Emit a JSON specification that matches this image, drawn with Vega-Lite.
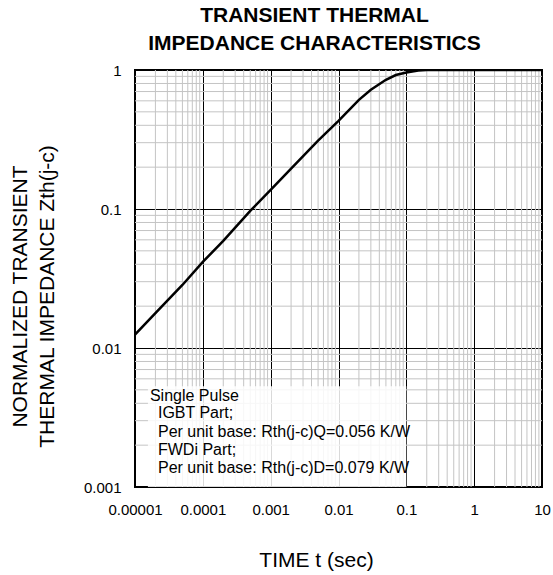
{
  "$schema": "https://vega.github.io/schema/vega-lite/v6.json",
  "width": 407,
  "height": 417,
  "autosize": {"type": "none"},
  "padding": {"left": 135, "top": 70, "right": 11, "bottom": 88},
  "background": "white",
  "config": {
    "font": "Liberation Sans",
    "view": {"stroke": "black", "strokeWidth": 2}
  },
  "title": {
    "text": ["TRANSIENT THERMAL", "IMPEDANCE CHARACTERISTICS"],
    "font": "Liberation Sans",
    "fontSize": 21,
    "fontWeight": "bold",
    "lineHeight": 28,
    "anchor": "middle",
    "offset": 9,
    "dx": -24,
    "color": "black"
  },
  "datasets": {
    "curve": [
      {"t": 0.00001, "z": 0.0125},
      {"t": 0.00002, "z": 0.0178},
      {"t": 0.00005, "z": 0.0284},
      {"t": 0.0001, "z": 0.0416},
      {"t": 0.0002, "z": 0.059},
      {"t": 0.0005, "z": 0.097},
      {"t": 0.001, "z": 0.137},
      {"t": 0.002, "z": 0.195},
      {"t": 0.005, "z": 0.31},
      {"t": 0.01, "z": 0.43},
      {"t": 0.02, "z": 0.61},
      {"t": 0.03, "z": 0.72},
      {"t": 0.05, "z": 0.85},
      {"t": 0.07, "z": 0.92},
      {"t": 0.1, "z": 0.96},
      {"t": 0.15, "z": 0.99},
      {"t": 0.2, "z": 1.0},
      {"t": 10, "z": 1.0}
    ],
    "gridx": [
      {"gx": 0.00002}, {"gx": 0.00003}, {"gx": 0.00004}, {"gx": 0.00005}, {"gx": 0.00006}, {"gx": 0.00007}, {"gx": 0.00008}, {"gx": 0.00009},
      {"gx": 0.0002}, {"gx": 0.0003}, {"gx": 0.0004}, {"gx": 0.0005}, {"gx": 0.0006}, {"gx": 0.0007}, {"gx": 0.0008}, {"gx": 0.0009},
      {"gx": 0.002}, {"gx": 0.003}, {"gx": 0.004}, {"gx": 0.005}, {"gx": 0.006}, {"gx": 0.007}, {"gx": 0.008}, {"gx": 0.009},
      {"gx": 0.02}, {"gx": 0.03}, {"gx": 0.04}, {"gx": 0.05}, {"gx": 0.06}, {"gx": 0.07}, {"gx": 0.08}, {"gx": 0.09},
      {"gx": 0.2}, {"gx": 0.3}, {"gx": 0.4}, {"gx": 0.5}, {"gx": 0.6}, {"gx": 0.7}, {"gx": 0.8}, {"gx": 0.9},
      {"gx": 2}, {"gx": 3}, {"gx": 4}, {"gx": 5}, {"gx": 6}, {"gx": 7}, {"gx": 8}, {"gx": 9}
    ],
    "gridy": [
      {"gy": 0.002}, {"gy": 0.003}, {"gy": 0.004}, {"gy": 0.005}, {"gy": 0.006}, {"gy": 0.007}, {"gy": 0.008}, {"gy": 0.009},
      {"gy": 0.02}, {"gy": 0.03}, {"gy": 0.04}, {"gy": 0.05}, {"gy": 0.06}, {"gy": 0.07}, {"gy": 0.08}, {"gy": 0.09},
      {"gy": 0.2}, {"gy": 0.3}, {"gy": 0.4}, {"gy": 0.5}, {"gy": 0.6}, {"gy": 0.7}, {"gy": 0.8}, {"gy": 0.9}
    ],
    "box": [
      {"x1": 0.0000155, "x2": 0.1, "y1": 0.001, "y2": 0.0053}
    ],
    "note1": [
      {"tx": 0.0000166, "ty": 0.00452, "label": "Single Pulse"}
    ],
    "note2": [
      {"tx": 0.0000218, "ty": 0.0034, "label": "IGBT Part;"},
      {"tx": 0.0000218, "ty": 0.00249, "label": "Per unit base: Rth(j-c)Q=0.056 K/W"},
      {"tx": 0.0000218, "ty": 0.00185, "label": "FWDi Part;"},
      {"tx": 0.0000218, "ty": 0.00137, "label": "Per unit base: Rth(j-c)D=0.079 K/W"}
    ]
  },
  "layer": [
    {
      "data": {"name": "gridx"},
      "mark": {"type": "rule", "stroke": "#c4c4c4", "strokeWidth": 1},
      "encoding": {
        "x": {
          "field": "gx", "type": "quantitative",
          "scale": {"type": "log", "domain": [0.00001, 10], "nice": false},
          "axis": {
            "values": [0.00001, 0.0001, 0.001, 0.01, 0.1, 1, 10],
            "format": "~f",
            "title": "TIME t (sec)",
            "titleFontSize": 21,
            "titleFontWeight": "normal",
            "titleColor": "black",
            "titleX": 181,
            "titleY": 79,
            "titleBaseline": "alphabetic",
            "titleAlign": "center",
            "labelFontSize": 15,
            "labelColor": "black",
            "labelPadding": 15,
            "labelFlush": false,
            "labelOverlap": false,
            "ticks": false,
            "domain": false,
            "grid": true,
            "gridColor": "black",
            "gridWidth": 1,
            "gridOpacity": 1
          }
        }
      }
    },
    {
      "data": {"name": "gridy"},
      "mark": {"type": "rule", "stroke": "#c4c4c4", "strokeWidth": 1},
      "encoding": {
        "y": {
          "field": "gy", "type": "quantitative",
          "scale": {"type": "log", "domain": [0.001, 1], "nice": false},
          "axis": {
            "values": [0.001, 0.01, 0.1, 1],
            "format": "~f",
            "title": ["NORMALIZED TRANSIENT", "THERMAL IMPEDANCE Zth(j-c)"],
            "titleFontSize": 21,
            "titleFontWeight": "normal",
            "titleColor": "black",
            "titleLineHeight": 27,
            "titleX": -115,
            "titleY": 226,
            "titleBaseline": "middle",
            "titleAlign": "center",
            "titleAngle": -90,
            "labelFontSize": 15,
            "labelColor": "black",
            "labelPadding": 14,
            "labelFlush": false,
            "labelOverlap": false,
            "ticks": false,
            "domain": false,
            "grid": true,
            "gridColor": "black",
            "gridWidth": 1,
            "gridOpacity": 1
          }
        }
      }
    },
    {
      "data": {"name": "curve"},
      "mark": {"type": "line", "stroke": "black", "strokeWidth": 2.5, "clip": true},
      "encoding": {
        "x": {"field": "t", "type": "quantitative"},
        "y": {"field": "z", "type": "quantitative"}
      }
    },
    {
      "data": {"name": "box"},
      "mark": {"type": "rect", "fill": "white", "opacity": 0.85},
      "encoding": {
        "x": {"field": "x1", "type": "quantitative"},
        "x2": {"field": "x2"},
        "y": {"field": "y1", "type": "quantitative"},
        "y2": {"field": "y2"}
      }
    },
    {
      "data": {"name": "note1"},
      "mark": {"type": "text", "align": "left", "baseline": "middle", "fontSize": 16, "color": "black"},
      "encoding": {
        "x": {"field": "tx", "type": "quantitative"},
        "y": {"field": "ty", "type": "quantitative"},
        "text": {"field": "label"}
      }
    },
    {
      "data": {"name": "note2"},
      "mark": {"type": "text", "align": "left", "baseline": "middle", "fontSize": 16, "color": "black"},
      "encoding": {
        "x": {"field": "tx", "type": "quantitative"},
        "y": {"field": "ty", "type": "quantitative"},
        "text": {"field": "label"}
      }
    }
  ]
}
